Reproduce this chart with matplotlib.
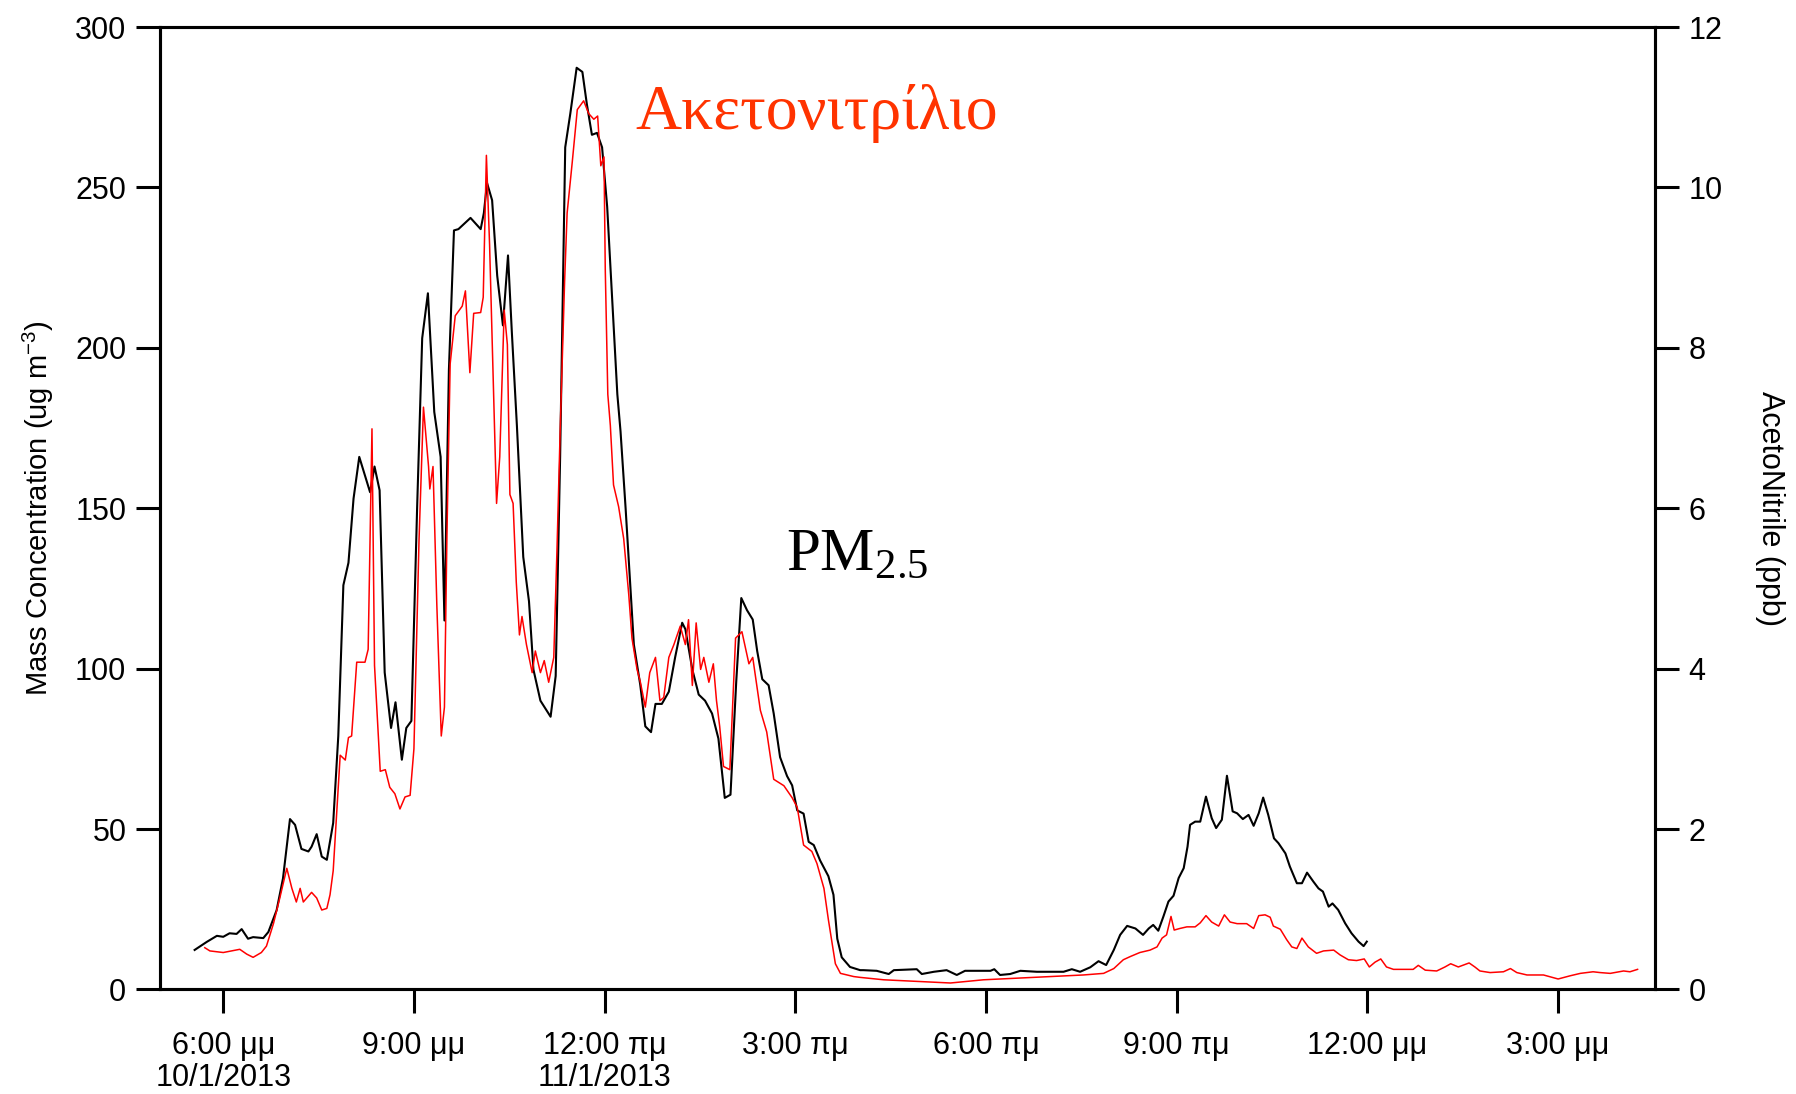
import matplotlib
matplotlib.use('Agg')
import matplotlib.pyplot as plt

plt.rcParams['font.family'] = ['Liberation Sans', 'DejaVu Sans']
plt.rcParams['mathtext.fontset'] = 'custom'
plt.rcParams['mathtext.rm'] = 'Liberation Sans'

# time in hours since 10/1/2013 00:00
pm_hours = [17.55, 17.74, 17.90, 18.00, 18.10, 18.21, 18.29, 18.39, 18.47, 18.63,
            18.71, 18.84, 18.94, 19.05, 19.13, 19.23, 19.34, 19.39, 19.47, 19.55,
            19.63, 19.73, 19.81, 19.89, 19.97, 20.05, 20.14, 20.31, 20.38, 20.46,
            20.54, 20.64, 20.71, 20.81, 20.88, 20.96, 21.05, 21.13, 21.22, 21.32,
            21.42, 21.48, 21.55, 21.63, 21.70, 21.89, 22.05, 22.10, 22.15, 22.23,
            22.31, 22.40, 22.48, 22.54, 22.62, 22.72, 22.81, 22.88, 22.99, 23.15,
            23.23, 23.30, 23.38, 23.46, 23.56, 23.65, 23.72, 23.80, 23.88, 23.96,
            24.04, 24.12, 24.20, 24.25, 24.33, 24.46, 24.56, 24.64, 24.73, 24.80,
            24.90, 25.01, 25.11, 25.22, 25.27, 25.38, 25.48, 25.58, 25.69, 25.79,
            25.89, 25.98, 26.07, 26.15, 26.24, 26.33, 26.40, 26.48, 26.58, 26.66,
            26.76, 26.87, 26.95, 27.03, 27.13, 27.21, 27.29, 27.39, 27.52, 27.60,
            27.66, 27.73, 27.86, 28.02, 28.07, 28.28, 28.47, 28.55, 28.91, 28.99,
            29.18, 29.38, 29.54, 29.67, 30.07, 30.13, 30.22, 30.38, 30.54, 30.80,
            31.22, 31.35, 31.48, 31.64, 31.77, 31.89, 32.01, 32.11, 32.22, 32.35,
            32.47, 32.56, 32.63, 32.71, 32.79, 32.87, 32.95, 33.03, 33.11, 33.17,
            33.21, 33.29, 33.37, 33.46, 33.55, 33.62, 33.71, 33.79, 33.88, 33.95,
            34.04, 34.13, 34.21, 34.29, 34.36, 34.44, 34.53, 34.60, 34.71, 34.78,
            34.89, 34.97, 35.05, 35.15, 35.23, 35.30, 35.39, 35.45, 35.54, 35.65,
            35.75, 35.86, 35.94, 35.99]
pm_values = [12.3, 14.8, 16.7, 16.4, 17.5, 17.3, 18.8, 15.8, 16.3, 16.0,
             17.9, 24.7, 34.6, 53.1, 51.3, 43.8, 43.0, 44.5, 48.4, 41.4,
             40.4, 51.9, 79, 126, 133, 153, 166, 155, 163, 155.6,
             98.8, 81.5, 89.5, 71.6, 81.5, 83.7, 150, 203, 217, 180,
             166, 115, 193, 236.6, 237, 240.5, 237, 242, 251.4, 246,
             222.5, 207, 228.8, 205, 175.7, 134.8, 121, 99.7, 90, 85,
             97.7, 166, 262.5, 273, 287.3, 286, 276, 266.4, 267, 262.5,
             244, 214.7, 185.5, 174, 150, 107.5, 95, 82, 80.2, 89,
             89, 92.8, 103.6, 114.3, 112.3, 99.7, 91.9, 90, 86, 78.2,
             59.7, 60.7, 95.8, 122, 118.2, 115.3, 105.5, 96.7, 94.8, 86,
             72.4, 66.5, 63.6, 55.8, 54.8, 46, 45, 40.2, 35.3, 29.5,
             15.8, 10, 7, 6, 6, 5.8, 4.8, 6, 6.3, 4.8,
             5.5, 6, 4.5, 5.8, 5.8, 6.3, 4.5, 4.8, 5.8, 5.5,
             5.5, 6.3, 5.5, 6.9, 8.8, 7.6, 12.3, 17, 19.8, 19,
             17, 19, 20.1, 18.3, 22.7, 27.4, 29.2, 34.7, 37.8, 44.5,
             51.3, 52.3, 52.3, 60.1, 53.4, 50.3, 52.9, 66.6, 55.5, 54.9,
             53.1, 54.4, 51, 54.9, 59.8, 54.4, 47.1, 45.6, 42.4, 38.3,
             33.1, 33.1, 36.4, 33.6, 31.5, 30.5, 25.8, 26.8, 24.8, 20.6,
             17.5, 14.9, 13.5, 14.9]

acn_hours = [17.71, 17.79, 18.00, 18.26, 18.37, 18.47, 18.60, 18.68, 18.79, 18.89,
             19.00, 19.08, 19.15, 19.21, 19.26, 19.39, 19.47, 19.55, 19.63, 19.68,
             19.73, 19.84, 19.92, 19.97, 20.02, 20.10, 20.23, 20.28, 20.34, 20.38,
             20.47, 20.55, 20.62, 20.70, 20.78, 20.86, 20.94, 21.00, 21.08, 21.15,
             21.23, 21.25, 21.30, 21.36, 21.43, 21.48, 21.52, 21.57, 21.65, 21.76,
             21.81, 21.88, 21.94, 22.05, 22.09, 22.14, 22.19, 22.26, 22.30, 22.35,
             22.42, 22.47, 22.51, 22.56, 22.61, 22.66, 22.70, 22.77, 22.86, 22.91,
             22.99, 23.05, 23.12, 23.20, 23.25, 23.30, 23.37, 23.41, 23.49, 23.57,
             23.67, 23.75, 23.83, 23.89, 23.94, 23.99, 24.01, 24.05, 24.09, 24.14,
             24.22, 24.30, 24.38, 24.43, 24.51, 24.56, 24.64, 24.71, 24.80, 24.87,
             24.93, 25.01, 25.09, 25.19, 25.27, 25.32, 25.38, 25.44, 25.51, 25.56,
             25.64, 25.71, 25.76, 25.81, 25.87, 25.97, 26.06, 26.16, 26.27, 26.33,
             26.40, 26.45, 26.55, 26.66, 26.82, 26.95, 27.03, 27.13, 27.26, 27.34,
             27.45, 27.52, 27.63, 27.71, 27.92, 28.02, 28.39, 28.91, 29.44, 29.96,
             30.49, 31.01, 31.53, 31.85, 32.01, 32.16, 32.27, 32.42, 32.58, 32.69,
             32.77, 32.84, 32.91, 32.96, 33.05, 33.16, 33.29, 33.37, 33.46, 33.55,
             33.66, 33.75, 33.84, 33.95, 34.10, 34.21, 34.29, 34.39, 34.47, 34.52,
             34.63, 34.73, 34.81, 34.89, 34.97, 35.07, 35.20, 35.31, 35.47, 35.57,
             35.70, 35.83, 35.95, 36.03, 36.12, 36.21, 36.30, 36.41, 36.72, 36.80,
             36.91, 37.09, 37.22, 37.31, 37.43, 37.60, 37.69, 37.77, 37.93, 38.14,
             38.25, 38.35, 38.51, 38.77, 39.00, 39.19, 39.35, 39.55, 39.66, 39.82,
             40.03, 40.13, 40.25]
acn_ppb = [0.52, 0.48, 0.46, 0.50, 0.44, 0.40, 0.46, 0.54, 0.82, 1.14,
           1.51, 1.26, 1.09, 1.26, 1.09, 1.21, 1.14, 0.99, 1.01, 1.18,
           1.48, 2.92, 2.86, 3.14, 3.16, 4.08, 4.08, 4.24, 6.99, 4.04,
           2.72, 2.74, 2.52, 2.44, 2.25, 2.40, 2.42, 3.00, 5.60, 7.26,
           6.52, 6.24, 6.52, 4.80, 3.16, 3.52, 5.70, 7.80, 8.40, 8.52,
           8.71, 7.69, 8.43, 8.44, 8.63, 10.40, 9.29, 7.26, 6.06, 6.64,
           8.47, 8.04, 6.17, 6.06, 5.08, 4.42, 4.65, 4.30, 3.95, 4.22,
           3.95, 4.10, 3.83, 4.14, 5.47, 6.95, 8.82, 9.68, 10.31, 10.97,
           11.08, 10.92, 10.85, 10.89, 10.27, 10.38, 8.98, 7.42, 7.03, 6.29,
           6.02, 5.62, 4.92, 4.38, 3.99, 3.84, 3.52, 3.95, 4.14, 3.60,
           3.64, 4.14, 4.30, 4.53, 4.30, 4.61, 3.79, 4.57, 3.99, 4.14,
           3.83, 4.06, 3.60, 3.28, 2.78, 2.74, 4.38, 4.46, 4.06, 4.14,
           3.75, 3.48, 3.21, 2.62, 2.54, 2.39, 2.27, 1.80, 1.72, 1.57,
           1.26, 0.87, 0.32, 0.20, 0.16, 0.15, 0.12, 0.10, 0.08, 0.12,
           0.14, 0.16, 0.18, 0.20, 0.26, 0.37, 0.41, 0.46, 0.49, 0.53,
           0.64, 0.68, 0.91, 0.74, 0.76, 0.78, 0.78, 0.83, 0.92, 0.84,
           0.79, 0.93, 0.84, 0.82, 0.82, 0.76, 0.92, 0.93, 0.90, 0.79,
           0.75, 0.62, 0.53, 0.51, 0.64, 0.53, 0.45, 0.48, 0.49, 0.43,
           0.37, 0.36, 0.38, 0.28, 0.34, 0.38, 0.28, 0.25, 0.25, 0.30,
           0.24, 0.23, 0.28, 0.32, 0.28, 0.33, 0.28, 0.23, 0.21, 0.22,
           0.26, 0.21, 0.18, 0.18, 0.13, 0.17, 0.20, 0.22, 0.21, 0.20,
           0.23, 0.22, 0.25]

tick_hours = [18, 21, 24, 27, 30, 33, 36, 39]
tick_labels = ['6:00 μμ\n10/1/2013', '9:00 μμ', '12:00 πμ\n11/1/2013', '3:00 πμ',
               '6:00 πμ', '9:00 πμ', '12:00 μμ', '3:00 μμ']

fig = plt.figure(figsize=(17.96, 10.94), dpi=100)
ax = fig.add_axes([0.0889, 0.0956, 0.8328, 0.8797])
ax.plot(pm_hours, pm_values, color='black', lw=1.5)
ax.set_xlim(17.0, 40.53)
ax.set_ylim(0, 300)
ax.set_yticks([0, 50, 100, 150, 200, 250, 300])
ax.set_xticks(tick_hours)
ax.set_xticklabels(tick_labels, linespacing=1.07)

ax2 = ax.twinx()
ax2.plot(acn_hours, acn_ppb, color='red', lw=1.1)
ax2.set_ylim(0, 12)
ax2.set_yticks([0, 2, 4, 6, 8, 10, 12])

for a in (ax, ax2):
    for s in a.spines.values():
        s.set_linewidth(2.2)
    a.tick_params(direction='out', length=17, width=2.2, labelsize=22, pad=7)
ax.tick_params(axis='x', pad=13)

ax.set_ylabel('Mass Concentration (ug m$^{\\mathregular{-3}}$)', fontsize=21, va='center')
ax.yaxis.set_label_coords(-0.081, 0.5)
ax2.set_ylabel('AcetoNitrile (ppb)', fontsize=22, rotation=270, va='center')
ax2.yaxis.set_label_coords(1.0766, 0.5)

fig.text(0.354, 0.8817, 'Ακετονιτρίλιο', color='#FF3300', fontsize=46,
         family='Liberation Serif', ha='left', va='baseline')
fig.text(0.4376, 0.4796, 'PM$\\mathregular{_{2.5}}$', color='black', fontsize=44,
         family='Liberation Serif', ha='left', va='baseline')

fig.savefig('out.png', dpi=100)
